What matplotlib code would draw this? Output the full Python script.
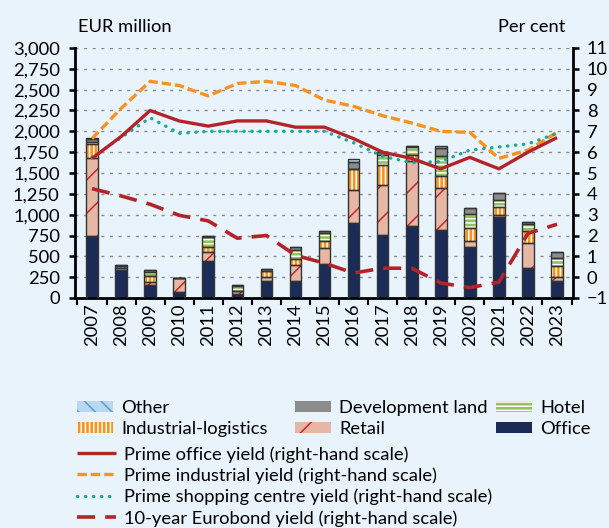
import matplotlib
matplotlib.use("Agg")
import matplotlib.pyplot as plt
import numpy as np
from matplotlib.patches import Patch

years = [str(y) for y in range(2007, 2024)]
office = [740, 340, 160, 68, 440, 48, 208, 200, 412, 900, 760, 868, 820, 608, 972, 360, 200]
retail = [940, 20, 30, 168, 108, 40, 44, 200, 188, 392, 592, 772, 500, 80, 20, 300, 48]
industrial = [170, 30, 70, 0, 64, 0, 68, 68, 80, 260, 240, 80, 140, 152, 100, 148, 132]
hotel = [20, 0, 52, 0, 120, 52, 0, 112, 100, 0, 120, 92, 240, 168, 88, 84, 100]
devland = [40, 10, 20, 4, 8, 16, 32, 28, 28, 80, 40, 8, 100, 72, 80, 16, 68]
other = [10, 0, 0, 0, 0, 0, 0, 0, 0, 36, 0, 0, 20, 0, 0, 0, 0]

office_yield = [5.7, 6.75, 8.0, 7.5, 7.25, 7.5, 7.5, 7.2, 7.2, 6.65, 6.0, 5.7, 5.2, 5.75, 5.2, 6.0, 6.7]
industrial_yield = [6.65, 8.1, 9.4, 9.2, 8.7, 9.3, 9.4, 9.2, 8.5, 8.2, 7.75, 7.4, 7.0, 6.95, 5.7, 6.1, 6.95]
shopping_yield = [5.75, 6.7, 7.65, 6.9, 7.0, 7.0, 7.0, 7.0, 7.0, 6.45, 5.8, 5.5, 5.55, 6.1, 6.25, 6.4, 6.9]
eurobond_yield = [4.25, 3.9, 3.5, 2.97, 2.7, 1.87, 2.0, 1.05, 0.67, 0.2, 0.43, 0.43, -0.28, -0.5, -0.24, 2.1, 2.54]

BG = "#e8f3fb"
FONT = ["Lato", "DejaVu Sans"]
FS = 13.2
plt.rcParams["font.family"] = FONT
plt.rcParams["font.size"] = FS
plt.rcParams["hatch.linewidth"] = 1.1

fig = plt.figure(figsize=(6.09, 5.28), dpi=100, facecolor=BG)
L, R, B, T = 75, 573, 298, 48
ax = fig.add_axes([L/609, 1-B/528, (R-L)/609, (B-T)/528])
ax.set_facecolor(BG)
ax2 = ax.twinx()

x = np.arange(len(years))
w = 0.4
series = [
    ("Office", office, "#1b2b58", None, "#1b2b58"),
    ("Retail", retail, "#e6b7a4", "/", "#c0282d"),
    ("Industrial-logistics", industrial, "#f7931e", "||||", "white"),
    ("Hotel", hotel, "#93c25a", "----", "white"),
    ("Development land", devland, "#8c8c8c", None, "#8c8c8c"),
    ("Other", other, "#b8d8f0", "\\\\", "#5a9bd0"),
]
bottom = np.zeros(len(years))
handles = {}
for name, vals, fc, hatch, hc in series:
    vals = np.array(vals, dtype=float)
    ax.bar(x, vals, w, bottom=bottom, color=fc, hatch=hatch, edgecolor=hc, linewidth=0, zorder=2)
    ax.bar(x, vals, w, bottom=bottom, facecolor="none", edgecolor="#333333", linewidth=1.0, zorder=3)
    handles[name] = Patch(facecolor=fc, hatch=hatch, edgecolor=hc, linewidth=0)
    bottom += vals

ax.set_ylim(0, 3000)
ax.set_yticks(np.arange(0, 3001, 250))
ax.set_yticklabels([f"{v:,}" for v in range(0, 3001, 250)])
ax.set_xlim(-0.585, 16.55)
ax.set_xticks(x)
ax.set_xticklabels(years, rotation=90)
ax.set_xticks(np.arange(-0.5, 16.6, 1), minor=True)
ax.tick_params(axis="x", which="major", length=0, pad=4)
ax.tick_params(axis="x", which="minor", length=5, width=1.5, direction="out")
ax.tick_params(axis="y", length=4, width=1.8, direction="out", pad=7)
ax.grid(axis="y", color="#8a8a8a", linestyle=(0, (2.2, 4.0)), linewidth=1.0, zorder=0)
ax.set_axisbelow(True)
for s in ["top", "right"]:
    ax.spines[s].set_visible(False)
ax.spines["left"].set_linewidth(2)
ax.spines["bottom"].set_linewidth(2)

red = "#b5232a"
ax2.plot(x, office_yield, color=red, lw=2.4, solid_capstyle="butt", zorder=5, label="Prime office yield (right-hand scale)")
ax2.plot(x, industrial_yield, color="#f7931e", lw=2.4, linestyle=(0, (2.8, 1.2)), zorder=4, label="Prime industrial yield (right-hand scale)")
ax2.plot(x, shopping_yield, color="#1aa69a", lw=2.4, linestyle=(0, (0.1, 2.3)), dash_capstyle="round", zorder=4, label="Prime shopping centre yield (right-hand scale)")
ax2.plot(x, eurobond_yield, color=red, lw=2.6, linestyle=(0, (5, 2.8)), zorder=4, label="10-year Eurobond yield (right-hand scale)")
ax2.set_ylim(-1, 11)
ax2.set_yticks(np.arange(-1, 12, 1))
ax2.tick_params(axis="y", length=4, width=1.8, direction="out", pad=6)
for s in ["top", "left", "bottom"]:
    ax2.spines[s].set_visible(False)
ax2.spines["right"].set_linewidth(2)

fig.text(78/609, 1-27/528, "EUR million", ha="left", va="center", fontsize=FS)
fig.text(565/609, 1-27/528, "Per cent", ha="right", va="center", fontsize=FS)

leg_kw = dict(frameon=False, fontsize=FS, loc="upper left", borderpad=0, borderaxespad=0,
              handlelength=1.95, handleheight=0.55, handletextpad=0.45, labelspacing=0.26)
cols = [(["Other", "Industrial-logistics"], 77), (["Development land", "Retail"], 295), (["Hotel", "Office"], 496)]
for names, xp in cols:
    fig.legend([handles[n] for n in names], names, bbox_to_anchor=(xp/609, 1-400/528), **leg_kw)

line_handles = ax2.get_lines()
fig.legend(line_handles, [l.get_label() for l in line_handles], bbox_to_anchor=(77/609, 1-446/528),
           frameon=False, fontsize=FS, loc="upper left", borderpad=0, borderaxespad=0,
           handlelength=2.1, handletextpad=0.45, labelspacing=0.26)

fig.savefig("out.png", dpi=100, facecolor=BG)
